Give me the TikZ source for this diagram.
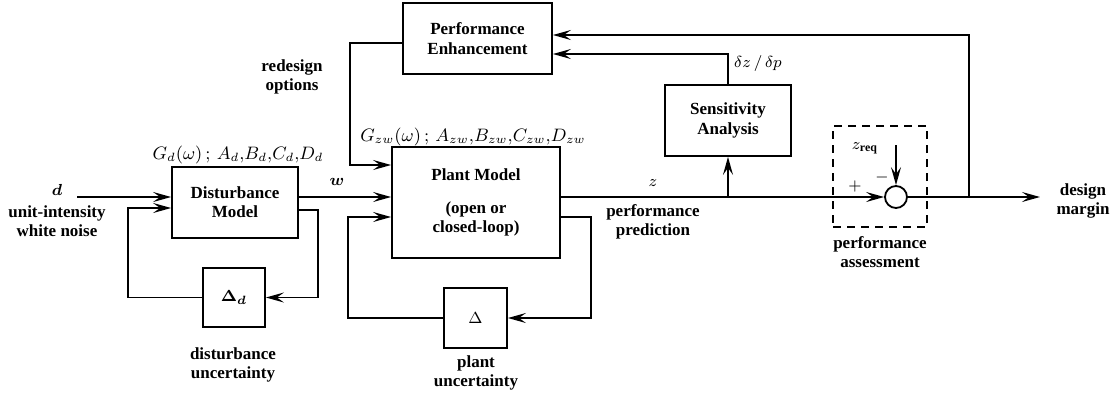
\documentclass[tikz,border=0pt]{standalone}
\usepackage{fontspec}
\setmainfont{Liberation Serif}
\usepackage{amsmath}
\usetikzlibrary{positioning, arrows.meta, calc}

\begin{document}
\begin{tikzpicture}[
            x=0.5pt, y=-0.5pt,
            font=\fontsize{8.5}{9.6}\selectfont\bfseries,
            block/.style={draw, line width=0.9pt, inner sep=1pt, align=center},
            junction/.style={circle, draw, line width=0.9pt, minimum size=11pt, inner sep=0pt},
            assessbox/.style={draw, dash pattern=on 4pt off 3pt, line width=0.9pt},
            sig/.style={-{Stealth[length=9pt, width=5pt, inset=3.5pt]}, line width=0.9pt},
            lbl/.style={align=center, inner sep=0pt}
            ]
            \useasboundingbox (0,0) rectangle (1115,398);

            % Blocks
            \node[block, minimum width=63pt, minimum height=35.5pt] (dist) at (235,202.5) {Disturbance\\Model};
            \node[block, minimum width=84pt, minimum height=55.5pt] (plant) at (476,202.5) {Plant Model\\[7pt](open or\\closed-loop)};
            \node[block, minimum width=74.5pt, minimum height=35.5pt] (perf) at (477.5,38.5) {Performance\\Enhancement};
            \node[block, minimum width=63pt, minimum height=35.5pt] (sens) at (728,120.5) {Sensitivity\\Analysis};
            \node[block, minimum width=31pt, minimum height=29.5pt] (deltad) at (234,297.5) {$\boldsymbol{\Delta_d}$};
            \node[block, minimum width=31.5pt, minimum height=30pt] (delta) at (475.5,318) {$\Delta$};
            \node[junction] (sum) at (896,197) {};
            \node[assessbox, minimum width=47pt, minimum height=50.5pt] (assess) at (880,176.5) {};

            % Free ends
            \coordinate (dstart) at (77,197);
            \coordinate (dout) at (1040,197);
            \coordinate (tap) at (969,197);
            \coordinate (zreqtop) at (896,145);

            % Labels
            \node[lbl] (dlab) at (57,190) {$\boldsymbol{d}$};
            \node[lbl] (noiselab) at (57,221) {unit-intensity\\white noise};
            \node[lbl, font=\fontsize{9}{10}\selectfont] (gdlab) at (238,155) {$G_d(\omega)\,;\,A_d{,}B_d{,}C_d{,}D_d$};
            \node[lbl] (wlab) at (337,182) {$\boldsymbol{w}$};
            \node[lbl] (redesignlab) at (292,77) {redesign\\options};
            \node[lbl, font=\fontsize{9}{10}\selectfont] (gzwlab) at (473,137) {$G_{zw}(\omega)\,;\,A_{zw}{,}B_{zw}{,}C_{zw}{,}D_{zw}$};
            \node[lbl] (zlab) at (653,183) {$z$};
            \node[lbl] (predlab) at (653,222) {performance\\prediction};
            \node[lbl] (sensilab) at (758,63) {$\delta z\,/\,\delta p$};
            \node[lbl] (zreqlab) at (865,148) {$z_{\mathbf{req}}$};
            \node[lbl] (pluslab) at (855,186) {$+$};
            \node[lbl] (minuslab) at (882,177) {$-$};
            \node[lbl] (marginlab) at (1083,201) {design\\margin};
            \node[lbl] (assesslab) at (880,252) {performance\\assessment};
            \node[lbl] (dunclab) at (233,365) {disturbance\\uncertainty};
            \node[lbl] (punclab) at (476,373) {plant\\uncertainty};

            % Disturbance loop
            \draw[sig] (dstart) -- (dist.west |- dstart);
            \draw[sig] (dist.east |- 0,210) -| (318,297.5) -- (deltad.east);
            \draw[sig] (deltad.west) -| (128,208) -- (dist.west |- 0,208);
            \draw[sig] (dist.east |- 0,197) -- (plant.west |- 0,197);

            % Plant loop
            \draw[sig] (plant.east |- 0,217) -| (591,318) -- (delta.east);
            \draw[sig] (delta.west) -| (348,217) -- (plant.west |- 0,217);
            \draw[sig] (perf.west |- 0,43) -| (350,165) -- (plant.west |- 0,165);

            % Performance path
            \draw[sig] (plant.east |- 0,197) -- (sum.west);
            \draw[sig] (sens.south |- 0,197) -- (sens.south);
            \draw[sig] (sens.north) |- (perf.east |- 0,54);
            \draw[sig] (zreqtop) -- (sum.north);
            \draw[sig] (sum.east) -- (dout);
            \draw[sig] (tap) |- (perf.east |- 0,35);

        \end{tikzpicture}
\end{document}
